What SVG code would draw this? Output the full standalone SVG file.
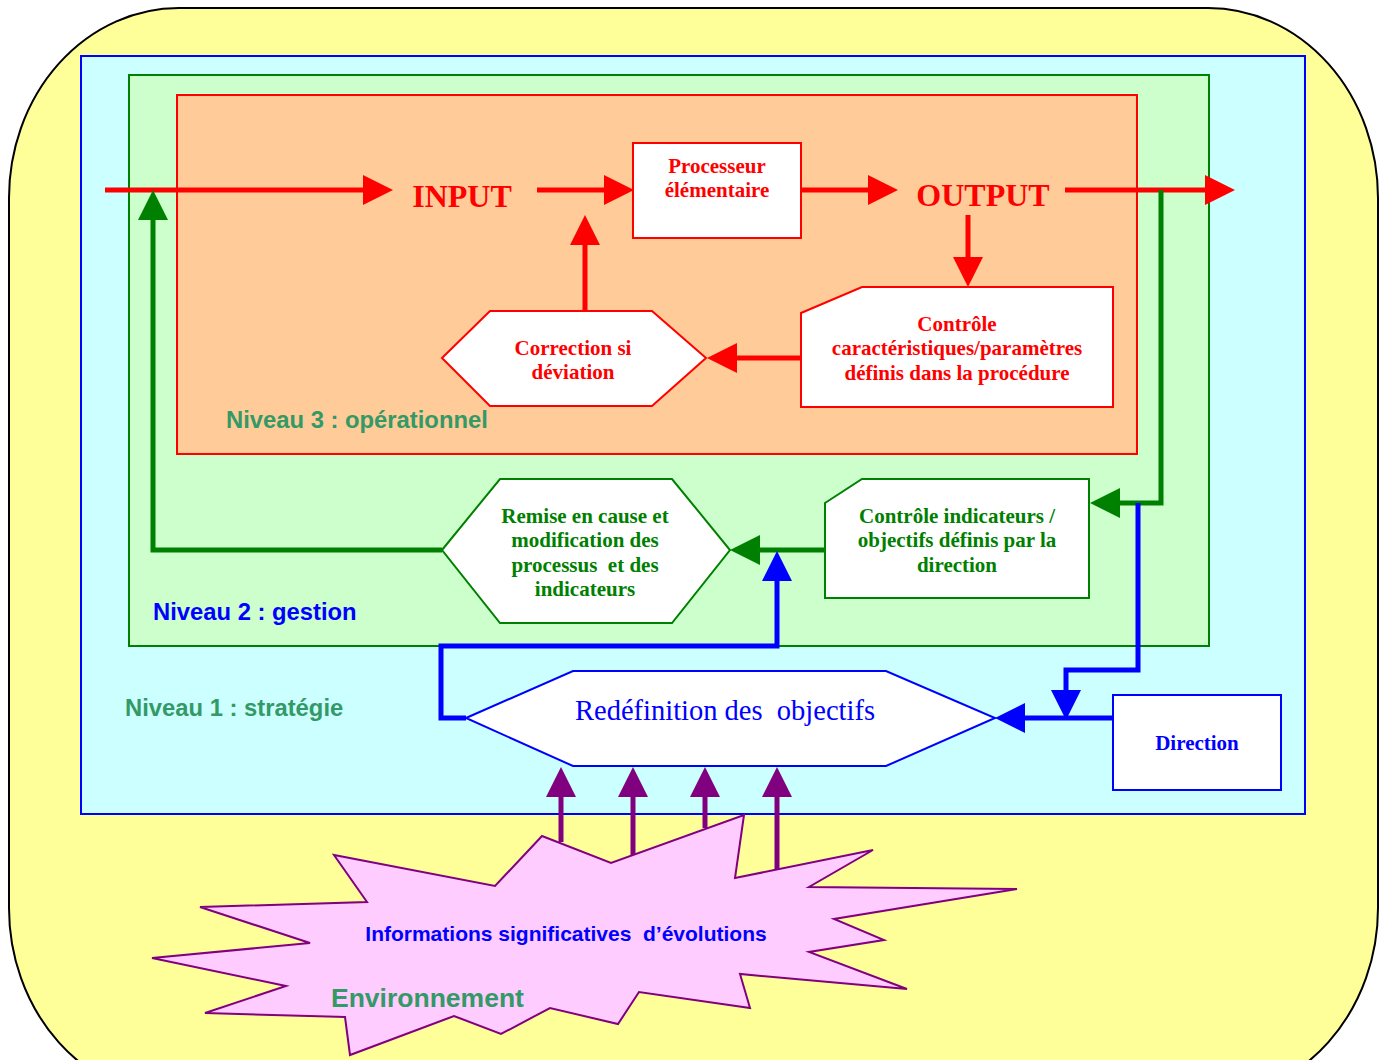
<svg xmlns="http://www.w3.org/2000/svg" width="1383" height="1060" viewBox="0 0 1383 1060">
<style>
.bx{stroke-width:2}
.rt{font-family:"Liberation Serif","Times New Roman",serif;font-weight:bold;font-size:21px;fill:#FF0000;text-anchor:middle}
.gt{font-family:"Liberation Serif","Times New Roman",serif;font-weight:bold;font-size:21px;fill:#008000;text-anchor:middle}
.big{font-family:"Liberation Serif","Times New Roman",serif;font-weight:bold;font-size:32px;fill:#FF0000;text-anchor:middle}
.lbl{font-family:"Liberation Sans",Arial,sans-serif;font-weight:bold;font-size:23.8px}
.cr{fill:none;stroke:#FF0000;stroke-width:5}
.cg{fill:none;stroke:#008000;stroke-width:5}
.cb{fill:none;stroke:#0000FF;stroke-width:5}
.cp{fill:none;stroke:#800080;stroke-width:5}
</style>
<defs>
<marker id="ar" viewBox="0 0 30 30" refX="0" refY="15" markerWidth="30" markerHeight="30" markerUnits="userSpaceOnUse" orient="auto"><path d="M0,0 L30,15 L0,30 z" fill="#FF0000"/></marker>
<marker id="ag" viewBox="0 0 30 30" refX="0" refY="15" markerWidth="30" markerHeight="30" markerUnits="userSpaceOnUse" orient="auto"><path d="M0,0 L30,15 L0,30 z" fill="#008000"/></marker>
<marker id="ab" viewBox="0 0 30 30" refX="0" refY="15" markerWidth="30" markerHeight="30" markerUnits="userSpaceOnUse" orient="auto"><path d="M0,0 L30,15 L0,30 z" fill="#0000FF"/></marker>
<marker id="ap" viewBox="0 0 30 30" refX="0" refY="15" markerWidth="30" markerHeight="30" markerUnits="userSpaceOnUse" orient="auto"><path d="M0,0 L30,15 L0,30 z" fill="#800080"/></marker>
</defs>
<rect width="1383" height="1060" fill="#FFFFFF"/>
<g id="environment-frame">
<rect x="9" y="8" width="1369" height="1090" rx="170" ry="190" fill="#FFFF99" stroke="#000000" stroke-width="2"/>
</g>
<g id="niveau1">
<rect x="81" y="56" width="1224" height="758" fill="#CCFFFF" stroke="#0000FF" stroke-width="2"/>
<text class="lbl" x="125" y="716" fill="#339966">Niveau 1 : stratégie</text>
</g>
<g id="niveau2">
<rect x="129" y="75" width="1080" height="571" fill="#CCFFCC" stroke="#008000" stroke-width="2"/>
<text class="lbl" x="153" y="620" fill="#0000FF">Niveau 2 : gestion</text>
</g>
<g id="niveau3">
<rect x="177" y="95" width="960" height="359" fill="#FFCC99" stroke="#FF0000" stroke-width="2"/>
<text class="lbl" x="226" y="428" fill="#339966">Niveau 3 : opérationnel</text>
</g>
<g id="input"><text class="big" x="462" y="207">INPUT</text></g>
<g id="processeur">
<rect class="bx" x="633" y="143" width="168" height="95" fill="#FFFFFF" stroke="#FF0000"/>
<text class="rt" x="717" y="173">Processeur</text>
<text class="rt" x="717" y="197">élémentaire</text>
</g>
<g id="output"><text class="big" x="983" y="206">OUTPUT</text></g>
<g id="controle-op">
<polygon class="bx" points="801,313 862,287 1113,287 1113,407 801,407" fill="#FFFFFF" stroke="#FF0000"/>
<text class="rt" x="957" y="331">Contrôle</text>
<text class="rt" x="957" y="355">caractéristiques/paramètres</text>
<text class="rt" x="957" y="380">définis dans la procédure</text>
</g>
<g id="correction">
<polygon class="bx" points="442,358 490,311 652,311 706,358 652,406 490,406" fill="#FFFFFF" stroke="#FF0000"/>
<text class="rt" x="573" y="355">Correction si</text>
<text class="rt" x="573" y="379">déviation</text>
</g>
<g id="remise">
<polygon class="bx" points="442,550 500,479 672,479 730,550 672,623 500,623" fill="#FFFFFF" stroke="#008000"/>
<text class="gt" x="585" y="523">Remise en cause et</text>
<text class="gt" x="585" y="547">modification des</text>
<text class="gt" x="585" y="572" xml:space="preserve">processus  et des</text>
<text class="gt" x="585" y="596">indicateurs</text>
</g>
<g id="controle-ind">
<polygon class="bx" points="825,503 862,479 1089,479 1089,598 825,598" fill="#FFFFFF" stroke="#008000"/>
<text class="gt" x="957" y="523">Contrôle indicateurs /</text>
<text class="gt" x="957" y="547">objectifs définis par la</text>
<text class="gt" x="957" y="572">direction</text>
</g>
<g id="redefinition">
<polygon class="bx" points="466,718 573,671 886,671 995,718 886,766 573,766" fill="#FFFFFF" stroke="#0000FF"/>
<text x="725" y="720" text-anchor="middle" font-family="Liberation Serif, Times New Roman, serif" font-size="28.5" fill="#0000FF" xml:space="preserve">Redéfinition des  objectifs</text>
</g>
<g id="direction">
<rect class="bx" x="1113" y="695" width="168" height="95" fill="#FFFFFF" stroke="#0000FF"/>
<text class="rt" x="1197" y="750" style="fill:#0000FF">Direction</text>
</g>
<g id="environnement">
<polygon points="542,836 611,863 744,815 735,878 873,850 809,887 1017,889 834,919 884,940 809,952 907,989 740,974 750,1008 639,992 618,1024 550,1008 501,1034 454,1016 350,1055 345,1017 205,1013 286,986 152,958 310,943 200,907 367,902 334,855 495,886" fill="#FFCCFF" stroke="#800080" stroke-width="2"/>
<text x="566" y="941" text-anchor="middle" font-family="Liberation Sans, Arial, sans-serif" font-weight="bold" font-size="21" fill="#0000FF" xml:space="preserve">Informations significatives  d’évolutions</text>
<text x="331" y="1007" font-family="Liberation Sans, Arial, sans-serif" font-weight="bold" font-size="26.5" fill="#339966">Environnement</text>
</g>
<g id="connectors">
<path class="cr" d="M105,190 H363" marker-end="url(#ar)"/>
<path class="cr" d="M537,190 H604" marker-end="url(#ar)"/>
<path class="cr" d="M801,190 H868" marker-end="url(#ar)"/>
<path class="cr" d="M1065,190 H1205" marker-end="url(#ar)"/>
<path class="cr" d="M968,215 V257" marker-end="url(#ar)"/>
<path class="cr" d="M801,358 H737" marker-end="url(#ar)"/>
<path class="cr" d="M585,311 V245" marker-end="url(#ar)"/>
<path class="cg" d="M442,550 H153 V220" marker-end="url(#ag)"/>
<path class="cg" d="M1161,190 V503 H1120" marker-end="url(#ag)"/>
<path class="cg" d="M825,550 H760" marker-end="url(#ag)"/>
<path class="cb" d="M466,718 H441 V646 H777 V581" marker-end="url(#ab)"/>
<path class="cb" d="M1138,503 V670 H1066 V690" marker-end="url(#ab)"/>
<path class="cb" d="M1113,718 H1025" marker-end="url(#ab)"/>
<path class="cp" d="M561,842 V797" marker-end="url(#ap)"/>
<path class="cp" d="M633,855 V797" marker-end="url(#ap)"/>
<path class="cp" d="M705,828 V797" marker-end="url(#ap)"/>
<path class="cp" d="M777,870 V797" marker-end="url(#ap)"/>
</g>
</svg>
